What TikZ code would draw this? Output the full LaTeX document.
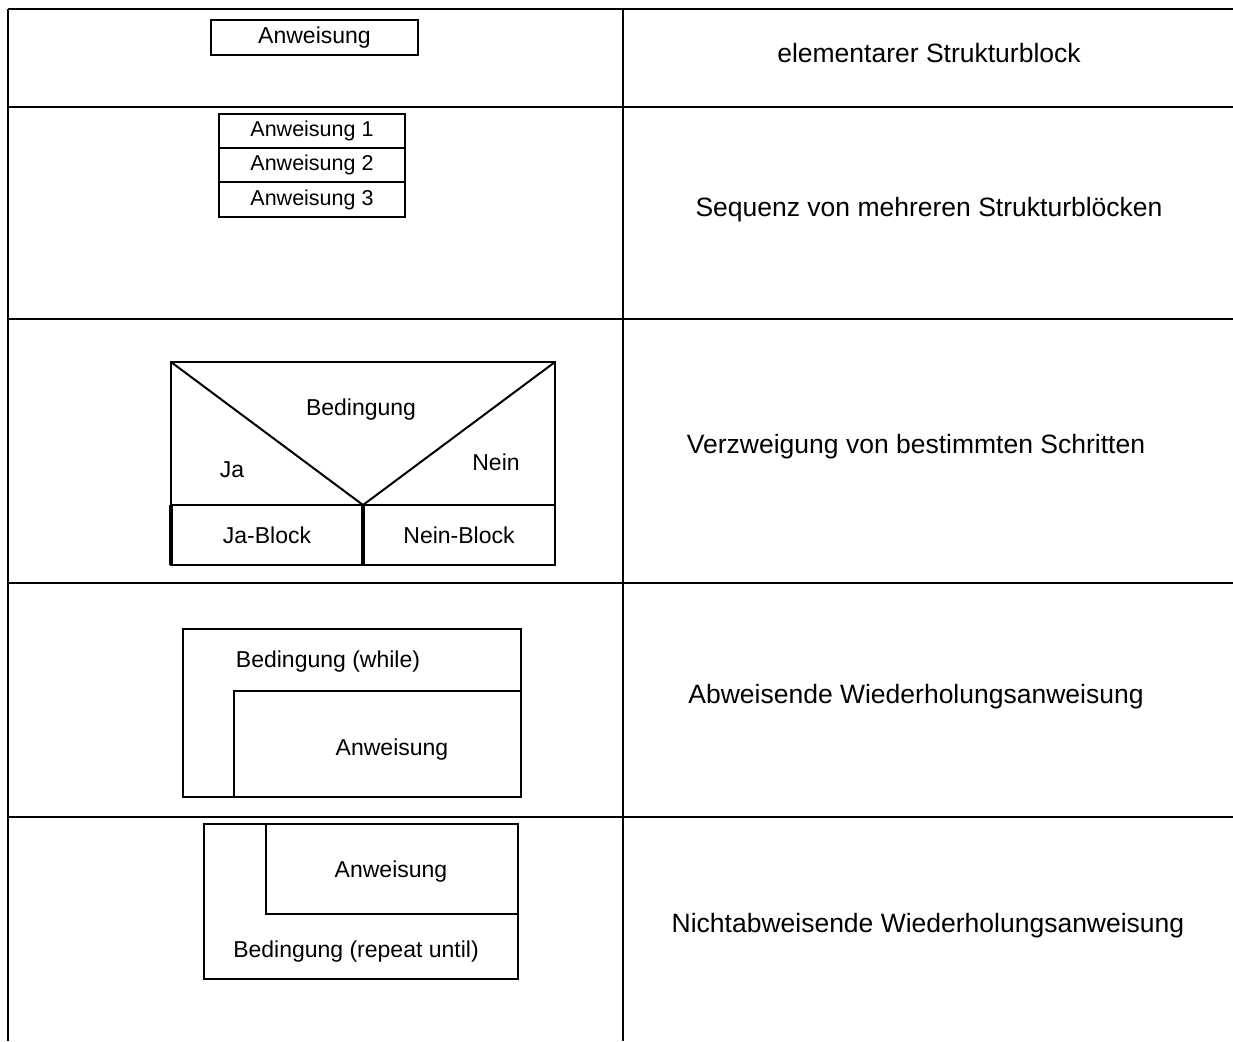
\documentclass[tikz,border=0pt]{standalone}
\usepackage{fontspec}
\setmainfont{Liberation Sans}
\usetikzlibrary{positioning}
\tikzset{rule/.style = {line width = 2pt}}
\tikzset{blk/.style = {draw, line width = 2pt, inner sep = 0, outer sep = 0,
                       font = \fontsize{23}{27}\selectfont}}
\tikzset{seqblk/.style = {blk, minimum width = 186pt, minimum height = 34pt,
                          font = \fontsize{21.5}{25}\selectfont}}
\tikzset{lbl/.style = {inner sep = 0, font = \fontsize{23}{27}\selectfont}}
\tikzset{desc/.style = {inner sep = 0, font = \fontsize{26.5}{30}\selectfont}}

\begin{document}
\begin{tikzpicture}[x=1pt, y=-1pt]
    \useasboundingbox (0, 0) rectangle (1233, 1041);

    % table
    \draw [rule] (8, 9) -- (1233, 9);
    \foreach \y in {107, 319, 583, 817}
        \draw [rule] (8, \y) -- (1233, \y);
    \draw [rule] (8, 9) -- (8, 1041);
    \draw [rule] (623, 9) -- (623, 1041);

    % elementarer Strukturblock
    \node [blk, minimum width = 207pt, minimum height = 35pt] (anw) at (314.5, 37.5) {Anweisung};
    \node [desc] (dElem) at (929, 53) {elementarer Strukturblock};

    % Sequenz
    \node [seqblk] (seqA) at (312, 131) {Anweisung 1};
    \node [seqblk, below = 0pt of seqA] (seqB) {Anweisung 2};
    \node [seqblk, below = 0pt of seqB, minimum height = 35pt] (seqC) {Anweisung 3};
    \node [desc] (dSeq) at (929, 210) {Sequenz von mehreren Strukturblöcken};

    % Verzweigung
    \node [blk, minimum width = 384pt, minimum height = 143pt] (cond) at (363, 433.5) {};
    \node [blk, minimum width = 192pt, minimum height = 60pt, anchor = north west] (jaBlk) at (cond.south west) {Ja-Block};
    \node [blk, minimum width = 192pt, minimum height = 60pt, anchor = north east] (neinBlk) at (cond.south east) {Nein-Block};
    \draw [line width = 2pt] (cond.north west) -- (cond.south) -- (cond.north east);
    \draw [line width = 3.2pt] (jaBlk.north west) -- (jaBlk.south west);
    \draw [line width = 3.2pt] (jaBlk.north east) -- (jaBlk.south east);
    \node [lbl] (bed) at (361, 410) {Bedingung};
    \node [lbl] (ja) at (232, 470) {Ja};
    \node [lbl] (nein) at (496, 462) {Nein};
    \node [desc] (dVerz) at (916, 447) {Verzweigung von bestimmten Schritten};

    % abweisende Schleife
    \node [blk, minimum width = 338pt, minimum height = 168pt] (whl) at (352, 713) {};
    \node [blk, minimum width = 287pt, minimum height = 106pt, anchor = south east] (whlIn) at (whl.south east) {};
    \node [lbl] (whlCond) at (328, 662) {Bedingung (while)};
    \node [lbl] (whlAnw) at (392, 750) {Anweisung};
    \node [desc] (dWhl) at (916, 697) {Abweisende Wiederholungsanweisung};

    % nichtabweisende Schleife
    \node [blk, minimum width = 314pt, minimum height = 155pt] (rep) at (361, 901.5) {};
    \node [blk, minimum width = 252pt, minimum height = 90pt, anchor = north east] (repIn) at (rep.north east) {};
    \node [lbl] (repAnw) at (391, 872) {Anweisung};
    \node [lbl] (repCond) at (356, 952) {Bedingung (repeat until)};
    \node [desc] (dRep) at (928, 926) {Nichtabweisende Wiederholungsanweisung};
\end{tikzpicture}
\end{document}
